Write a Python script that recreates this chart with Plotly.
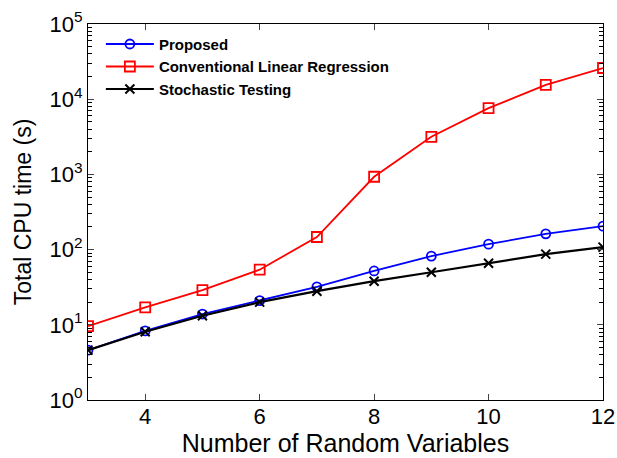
import plotly.graph_objects as go

x_vals = [3, 4, 5, 6, 7, 8, 9, 10, 11, 12]
proposed = [4.6, 8.3, 13.9, 21, 32, 52, 82, 118, 162, 205]
conventional = [9.6, 17, 29, 54, 147, 930, 3160, 7600, 15500, 26000]
stochastic = [4.6, 8.1, 13.2, 20, 28, 38, 50, 66, 87, 108]

y_tickvals = [1, 10, 100, 1000, 10000, 100000]
y_ticktext = ["10<sup>0</sup>", "10<sup>1</sup>", "10<sup>2</sup>", "10<sup>3</sup>", "10<sup>4</sup>", "10<sup>5</sup>"]
x_tickvals = [4, 6, 8, 10, 12]
minor_vals = [m * d for d in y_tickvals[:-1] for m in range(2, 10)]

fig = go.Figure()
fig.add_trace(go.Scatter(x=x_vals, y=proposed, name="Proposed", mode="lines+markers",
                         line=dict(color="#0000ff", width=1.8),
                         marker=dict(symbol="circle-open", size=9, color="#0000ff", line=dict(width=1.8))))
fig.add_trace(go.Scatter(x=x_vals, y=conventional, name="Conventional Linear Regression", mode="lines+markers",
                         line=dict(color="#ff0000", width=1.8),
                         marker=dict(symbol="square-open", size=10, color="#ff0000", line=dict(width=1.8))))
fig.add_trace(go.Scatter(x=x_vals, y=stochastic, name="Stochastic Testing", mode="lines+markers",
                         line=dict(color="#000000", width=2.2),
                         marker=dict(symbol="x-thin-open", size=9, color="#000000", line=dict(width=2))))

fig.update_layout(
    width=617, height=458,
    margin=dict(l=88, r=14, t=24, b=58),
    paper_bgcolor="white", plot_bgcolor="white",
    font=dict(family="Liberation Sans, Arial, sans-serif", color="black"),
    showlegend=True,
    legend=dict(x=0.025, y=0.99, xanchor="left", yanchor="top",
                bgcolor="rgba(255,255,255,0)", borderwidth=0,
                font=dict(size=15, family="Liberation Sans, Arial, sans-serif", weight="bold"),
                tracegroupgap=0, itemwidth=48),
)
fig.update_xaxes(range=[3, 12], tickvals=x_tickvals, ticks="inside", ticklen=6,
                 showline=True, linecolor="black", linewidth=1, mirror="ticks",
                 showgrid=False, zeroline=False, tickfont=dict(size=22), automargin=False,
                 ticklabelstandoff=-3,
                 title=dict(text="Number of Random Variables", font=dict(size=25), standoff=0))
fig.update_yaxes(type="log", range=[0, 5], tickvals=y_tickvals, ticktext=y_ticktext,
                 ticks="inside", ticklen=6,
                 minor=dict(tickmode="array", tickvals=minor_vals, ticks="inside", ticklen=4,
                            tickwidth=1, showgrid=False, tickcolor="black"),
                 showline=True, linecolor="black", linewidth=1, mirror="ticks",
                 showgrid=False, zeroline=False, tickfont=dict(size=22), automargin=False,
                 title=dict(text="Total CPU time (s)", font=dict(size=23), standoff=11))

fig.write_html("out.html")
